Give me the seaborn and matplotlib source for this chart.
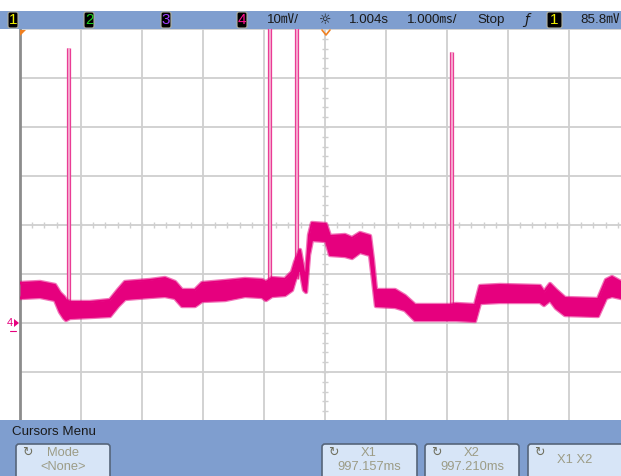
import matplotlib
matplotlib.use("Agg")
import matplotlib.pyplot as plt
from matplotlib.patches import Rectangle, FancyBboxPatch, Polygon
import seaborn as sns

# ===== scope data: time in ms from screen centre, level in mV above ch4 ground =====
t_ms = [-5.000, -4.672, -4.426, -4.344, -4.279, -4.246, -4.180, -3.852, -3.525, -3.393,
        -3.279, -2.869, -2.623, -2.459, -2.344, -2.131, -2.016, -1.639, -1.311, -1.033,
        -0.967, -0.869, -0.656, -0.541, -0.492, -0.410, -0.344, -0.311, -0.262, -0.213,
        0.016, 0.082, 0.328, 0.443, 0.574, 0.738, 0.787, 0.836, 1.148, 1.311,
        1.475, 2.049, 2.148, 2.459, 2.541, 2.869, 3.525, 3.590, 3.689, 3.787,
        3.934, 4.475, 4.607, 4.705, 4.852, 5.000]
upper_mv = [8.16, 8.37, 7.76, 6.12, 5.31, 4.69, 4.29, 4.29, 4.69, 6.73,
            8.37, 8.78, 9.18, 8.37, 6.73, 6.73, 8.16, 8.57, 8.98, 8.78,
            8.37, 9.18, 8.98, 10.41, 12.45, 14.90, 10.41, 9.80, 17.96, 20.41,
            20.20, 17.76, 17.96, 17.35, 18.37, 17.76, 12.86, 6.73, 6.73, 5.51,
            3.67, 3.67, 3.88, 3.67, 7.55, 7.76, 7.55, 6.33, 7.96, 6.73,
            5.10, 4.90, 8.78, 9.39, 8.37, 8.37]
lower_mv = [5.10, 5.31, 4.69, 2.24, 1.02, 0.61, 1.02, 1.22, 1.43, 3.47,
            4.90, 5.31, 5.51, 5.10, 3.47, 3.47, 4.49, 4.69, 5.51, 5.31,
            4.69, 5.51, 5.71, 6.73, 8.78, 11.22, 6.73, 6.33, 13.88, 16.94,
            16.73, 13.88, 13.67, 13.27, 14.49, 13.88, 8.78, 3.47, 3.27, 2.65,
            0.61, 0.61, 0.61, 0.41, 4.08, 4.29, 4.29, 3.67, 4.69, 3.06,
            1.63, 1.43, 5.10, 5.51, 5.10, 5.10]

# narrow glitches
spike_t = [-4.230, -0.934, -0.492, 2.049]
spike_peak = [56.1, 62.0, 62.0, 55.3]
spike_base = [1.0, 5.7, 9.0, 1.0]
SPIKE_W = 0.05

x_divs = list(range(-5, 6))       # 1 ms/div
y_divs = list(range(-20, 61, 10))  # 10 mV/div

TRACE = "#e6007e"
SPIKE_FILL = "#f6b3d3"
GRID = "#cfcfcf"
BAR = "#7f9ecf"
BTN = "#d7e5f7"
BTN_TXT = "#9c9c86"

sns.set_style("white")
plt.rcParams["font.family"] = ["Liberation Sans", "DejaVu Sans", "Noto Sans CJK JP"]

W, H = 621, 476
fig = plt.figure(figsize=(W / 100, H / 100), dpi=100)

# scope area in pixels: left 20, top 29, 61 px/div horizontally, 49 px/div vertically
ax = fig.add_axes([20 / W, (H - 421) / H, 610 / W, 392 / H])
ax.set_xlim(-5, 5)
ax.set_ylim(-20, 60)
ax.set_xticks(x_divs)
ax.set_yticks(y_divs)
ax.tick_params(length=0, labelbottom=False, labelleft=False)
ax.grid(True, color=GRID, lw=1.3)
for s in ["top", "right", "bottom"]:
    ax.spines[s].set_visible(False)
ax.spines["left"].set_color("#8c8c8c")
ax.spines["left"].set_linewidth(2)

# minor ticks on the centre cross
minor_x = [i / 5 for i in range(-25, 26)]
minor_y = [i * 2 for i in range(-10, 31)]
ax.plot(minor_x, [20] * len(minor_x), "|", color=GRID, ms=4, mew=1)
ax.plot([0] * len(minor_y), minor_y, "_", color=GRID, ms=4, mew=1)

# glitches
for t, pk, b in zip(spike_t, spike_peak, spike_base):
    ax.fill_between([t, t + SPIKE_W], b, pk, color=SPIKE_FILL, lw=0, zorder=3)
    ax.vlines([t, t + SPIKE_W], b, pk, color="#ea3c95", lw=0.9, zorder=3)

# noisy trace band, with a softer fringe around it
ax.fill_between(t_ms, lower_mv, upper_mv, color=TRACE, lw=0, zorder=4)
for edge in (upper_mv, lower_mv):
    sns.lineplot(x=t_ms, y=edge, ax=ax, color=TRACE, lw=3.2, alpha=0.55,
                 estimator=None, zorder=4)
    sns.lineplot(x=t_ms, y=edge, ax=ax, color=TRACE, lw=1.4, estimator=None, zorder=4)

# ===== overlay for the instrument UI (pixel coordinates) =====
ui = fig.add_axes([0, 0, 1, 1], zorder=5)
ui.set_xlim(0, W)
ui.set_ylim(H, 0)
ui.axis("off")
ui.patch.set_alpha(0)

# header bar
ui.add_patch(Rectangle((0, 11), W, 18, color=BAR, lw=0))
hdr_font = dict(fontsize=9.6, color="#1a1a1a", va="center")
for x0, w, lab, col in [(8, 10, "1", "#f0f000"), (84, 10, "2", "#20d020"),
                        (161, 10, "3", "#a040ff"), (237, 10, "4", "#ff1090"),
                        (547, 15, "1", "#f0f000")]:
    ui.add_patch(FancyBboxPatch((x0, 12), w, 16, boxstyle="round,pad=0,rounding_size=2",
                                fc="black", ec="#b0b0a0", lw=0.8))
    ui.text(x0 + w / 2, 20.5, lab, color=col, fontsize=11, ha="center", va="center")
ui.text(267, 20, "10㎷/", **hdr_font)
ui.text(325, 20, "☼", ha="center", fontsize=10, color="#1a1a1a", va="center",
        family="DejaVu Sans")
ui.text(349, 20, "1.004s", **hdr_font)
ui.text(407, 20, "1.000㎳/", **hdr_font)
ui.text(477, 20, "Stop", **hdr_font)
ui.text(527, 20, "ƒ", ha="center", fontsize=10, color="#1a1a1a", va="center",
        family="DejaVu Sans", style="italic")
ui.text(580, 20, "85.8㎷", **hdr_font)

# markers: trigger position, trigger time, ground of channel 4
ui.add_patch(Polygon([[20, 30], [26, 30], [20, 36]], color="#f08020", lw=0))
ui.plot([322, 326, 330], [30, 35, 30], color="#f08020", lw=1.2)
ui.text(10, 323, "4", color=TRACE, fontsize=8, ha="center", va="center")
ui.add_patch(Polygon([[14, 319], [19, 323], [14, 327]], color=TRACE, lw=0))
ui.plot([10, 16], [331, 331], color=TRACE, lw=0.8)

# footer menu
ui.add_patch(Rectangle((0, 420), W, 56, color=BAR, lw=0))
ui.text(12, 432, "Cursors Menu", fontsize=9.6, color="#1a1a1a", va="center")
for x0, w in [(16, 94), (322, 95), (425, 94), (528, 100)]:
    ui.add_patch(FancyBboxPatch((x0, 444), w, 40, boxstyle="round,pad=0,rounding_size=3",
                                fc=BTN, ec="#56657a", lw=1.2))
    ui.text(x0 + 11, 452, "↻", fontsize=9, color="#6f6f5e", ha="center", va="center",
            family="DejaVu Sans")
btn_font = dict(fontsize=9.3, color=BTN_TXT, ha="center", va="center")
ui.text(63, 453, "Mode", **btn_font)
ui.text(63, 467, "<None>", **btn_font)
ui.text(369, 453, "X1", **btn_font)
ui.text(369, 467, "997.157ms", **btn_font)
ui.text(472, 453, "X2", **btn_font)
ui.text(472, 467, "997.210ms", **btn_font)
ui.text(575, 460, "X1 X2", **btn_font)

fig.savefig("out.png", dpi=100)
